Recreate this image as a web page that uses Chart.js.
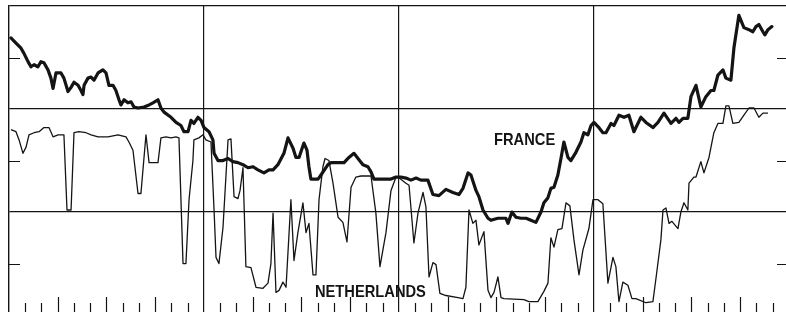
<!DOCTYPE html>
<html>
<head>
<meta charset="utf-8">
<script src="https://cdn.jsdelivr.net/npm/chart.js@4.4.1/dist/chart.umd.min.js"></script>
<style>
html,body{margin:0;padding:0;background:#fff;overflow:hidden;}
canvas{display:block;}
</style>
</head>
<body>
<canvas id="c" width="786" height="312"></canvas>
<script>
// ---- data (months from start of period, index value) ----
const franceMonths = [0.12,0.43,0.74,0.92,1.17,1.35,1.54,1.78,1.97,2.15,2.40,2.58,2.71,2.89,3.20,3.38,3.63,3.82,4.00,4.25,4.43,4.55,4.62,4.86,5.05,5.23,5.48,5.78,5.97,6.15,6.40,6.58,6.77,6.89,7.08,7.32,7.51,7.69,7.94,8.31,8.62,8.86,9.17,9.35,9.54,9.97,10.28,10.58,10.77,11.02,11.20,11.38,11.63,11.82,12.00,12.31,12.55,12.62,12.86,13.17,13.48,13.78,14.09,14.40,14.71,15.02,15.32,15.69,16.00,16.25,16.55,16.92,17.17,17.48,17.66,17.85,18.15,18.34,18.46,18.58,19.02,19.20,19.63,19.82,20.62,20.92,21.23,21.48,21.78,22.09,22.28,22.46,23.51,23.82,24.12,24.43,24.74,25.05,25.35,25.78,26.09,26.46,26.89,27.32,27.69,27.94,28.25,28.43,28.74,28.92,29.17,29.48,29.66,30.09,30.58,30.71,30.95,31.20,31.51,31.82,32.12,32.43,32.74,32.92,33.17,33.35,33.54,33.78,33.97,34.15,34.40,34.58,34.89,35.20,35.38,35.63,35.82,36.00,36.25,36.55,36.74,37.05,37.23,37.54,37.85,38.15,38.46,38.89,39.20,39.63,39.94,40.31,40.74,41.05,41.23,41.48,41.78,41.97,42.28,42.58,42.89,43.20,43.38,43.63,43.94,44.12,44.43,44.62,44.92,45.23,45.54,45.78,45.97,46.15,46.40,46.52,46.71,46.95];
const franceValues = [269,264,259,254,246,241,243,241,246,245,238,230,220,235,235,230,217,221,226,223,218,214,223,230,231,228,235,238,235,223,223,218,209,204,209,206,207,202,201,202,204,206,209,201,197,192,187,184,178,178,189,186,192,189,182,178,170,157,150,150,152,149,148,146,143,144,141,138,141,141,146,157,172,162,153,153,167,160,144,132,132,136,146,148,148,153,157,152,146,144,139,132,132,134,134,133,131,133,131,131,117,116,122,119,117,123,138,136,121,115,102,94,92,94,94,89,100,95,94,94,92,90,100,109,114,123,124,136,152,168,153,150,158,168,177,175,184,187,183,177,177,186,184,194,192,194,178,192,187,182,187,196,186,191,187,191,191,212,223,202,212,218,218,233,238,230,228,260,291,279,277,275,280,282,275,272,277,280];

const netherlandsMonths = [0.12,0.43,0.62,0.86,1.05,1.23,1.54,1.85,2.15,2.46,2.71,3.02,3.38,3.57,3.82,4.00,4.31,4.74,5.05,5.48,6.09,6.71,7.20,7.38,7.63,7.94,8.12,8.43,8.62,9.17,9.35,9.66,9.97,10.28,10.46,10.71,10.89,11.08,11.32,11.38,11.69,11.94,12.12,12.43,12.62,12.74,12.92,13.17,13.48,13.66,13.85,14.09,14.22,14.40,14.58,14.89,15.20,15.63,15.94,16.12,16.25,16.43,16.62,16.86,17.05,17.35,17.54,17.78,18.09,18.28,18.46,18.71,18.89,19.08,19.32,19.45,19.69,19.94,20.25,20.55,20.80,21.05,21.35,21.66,22.28,22.58,22.83,23.20,23.51,23.82,23.94,24.43,24.62,24.92,25.17,25.48,25.66,25.85,26.09,26.28,26.52,26.89,27.63,27.94,28.12,28.31,28.55,28.74,28.92,29.23,29.48,29.66,29.85,30.09,30.28,30.46,31.69,32.00,32.55,32.92,33.17,33.35,33.54,33.78,34.03,34.28,34.52,34.77,35.08,35.32,35.69,35.94,36.25,36.55,36.86,37.17,37.35,37.54,37.78,38.09,38.34,38.58,39.20,39.63,39.82,40.12,40.25,40.43,40.62,40.80,41.17,41.35,41.54,41.78,41.85,42.15,42.28,42.58,42.77,43.08,43.38,43.63,43.94,44.12,44.31,44.55,44.92,45.23,45.54,45.85,46.15,46.40,46.71];
const netherlandsValues = [180,178,170,157,163,175,177,178,182,182,173,175,175,102,102,177,178,177,175,173,173,175,173,168,160,118,118,175,148,148,172,173,172,173,172,50,50,112,150,170,172,175,170,168,102,56,50,85,170,171,115,113,121,143,47,46,27,26,31,50,99,22,24,32,27,112,53,80,109,80,89,39,39,112,144,152,150,128,95,90,71,124,134,135,135,99,47,80,121,134,134,128,126,70,99,119,105,37,51,49,21,19,17,16,27,102,89,92,68,81,24,17,22,37,17,16,15,13,13,23,31,75,66,83,84,109,106,73,39,63,84,112,112,108,31,56,47,13,32,29,16,16,12,13,36,73,102,104,89,91,84,100,109,102,128,134,134,149,138,153,177,186,186,203,203,186,187,194,201,201,192,196,196];

const seriesNames = ['FRANCE', 'NETHERLANDS'];
const labelMonths = [29.85, 18.83];
const labelValues = [165, 17.5];

const yearLines = [12, 24, 36];
const gridValues = [100, 200, 300];
const minorValues = [50, 150, 250];

function toPoints(xs, ys) { return xs.map((x, i) => ({x: x, y: ys[i]})); }

const ink = '#141414';

const decorPlugin = {
  id: 'decor',
  afterDraw(chart) {
    const ctx = chart.ctx;
    const xs = chart.scales.x, ys = chart.scales.y;
    const a = chart.chartArea;
    ctx.save();
    ctx.strokeStyle = ink;
    ctx.lineWidth = 1.2;
    // bottom month ticks
    for (let m = 1; m < 48; m++) {
      if (yearLines.includes(m)) continue;
      const px = Math.round(xs.getPixelForValue(m)) + 0.5;
      if (px > a.right) continue;
      const len = (m % 3 === 0) ? 15 : 9;
      ctx.beginPath();
      ctx.moveTo(px, a.bottom);
      ctx.lineTo(px, a.bottom - len);
      ctx.stroke();
    }
    // side minor ticks
    minorValues.forEach(v => {
      const py = Math.round(ys.getPixelForValue(v)) + 0.5;
      ctx.beginPath();
      ctx.moveTo(a.left, py); ctx.lineTo(a.left + 11, py);
      ctx.moveTo(a.right - 9, py); ctx.lineTo(a.right, py);
      ctx.stroke();
    });
    // series labels
    ctx.fillStyle = ink;
    ctx.font = 'bold 16.5px "Liberation Sans", Arial, sans-serif';
    ctx.textBaseline = 'alphabetic';
    seriesNames.forEach((name, i) => {
      const px = xs.getPixelForValue(labelMonths[i]);
      const py = ys.getPixelForValue(labelValues[i]);
      ctx.save();
      ctx.translate(px, py);
      ctx.scale(0.89, 1);
      ctx.fillText(name, 0, 0);
      ctx.restore();
    });
    ctx.restore();
  }
};

new Chart(document.getElementById('c'), {
  type: 'line',
  data: {
    datasets: [
      {
        label: seriesNames[1],
        data: toPoints(netherlandsMonths, netherlandsValues),
        borderColor: ink,
        borderWidth: 1.3,
        pointRadius: 0,
        tension: 0,
        fill: false,
        borderJoinStyle: 'round'
      },
      {
        label: seriesNames[0],
        data: toPoints(franceMonths, franceValues),
        borderColor: ink,
        borderWidth: 3.2,
        pointRadius: 0,
        tension: 0,
        fill: false,
        borderJoinStyle: 'round',
        borderCapStyle: 'round'
      }
    ]
  },
  options: {
    responsive: false,
    animation: false,
    devicePixelRatio: 1,
    layout: { padding: { left: 9, right: 0, top: 6, bottom: 0 } },
    plugins: { legend: { display: false }, tooltip: { enabled: false } },
    scales: {
      x: {
        type: 'linear',
        min: 0,
        max: 47.82,
        afterBuildTicks: s => { s.ticks = yearLines.map(v => ({value: v})); },
        ticks: { display: false },
        grid: { display: true, color: ink, lineWidth: 1.2, drawTicks: false },
        border: { display: false }
      },
      y: {
        min: 3,
        max: 300,
        afterBuildTicks: s => { s.ticks = gridValues.map(v => ({value: v})); },
        ticks: { display: false },
        grid: { display: true, color: ink, lineWidth: 1.2, drawTicks: false },
        border: { display: true, color: ink, width: 1.4 }
      }
    }
  },
  plugins: [decorPlugin]
});
</script>
</body>
</html>
